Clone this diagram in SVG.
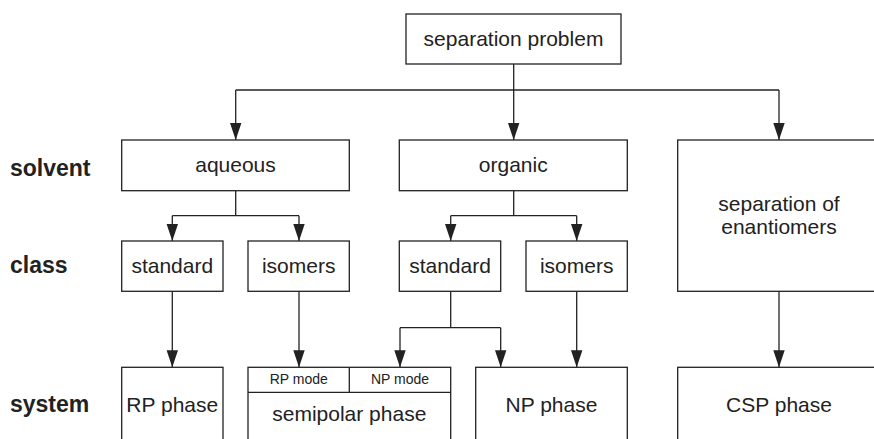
<svg xmlns="http://www.w3.org/2000/svg" width="874" height="439" viewBox="0 0 874 439">
  <style>
    .box { fill: #ffffff; stroke: #222222; stroke-width: 1.3; }
    .edge { fill: none; stroke: #222222; stroke-width: 1.3; }
    .lbl { font-family: "Liberation Sans", Arial, sans-serif; font-size: 21px; fill: #222222; text-anchor: middle; }
    .small { font-family: "Liberation Sans", Arial, sans-serif; font-size: 14px; fill: #222222; text-anchor: middle; }
    .row { font-family: "Liberation Sans", Arial, sans-serif; font-size: 23px; font-weight: bold; fill: #222222; }
  </style>
  <defs>
    <marker id="arrow" markerUnits="userSpaceOnUse" markerWidth="17" markerHeight="12" refX="17" refY="6" viewBox="0 0 17 12" orient="auto">
      <path d="M0,0.3 L17,6 L0,11.7 Z" fill="#222222"/>
    </marker>
  </defs>
  <rect width="874" height="439" fill="#ffffff"/>

  <!-- row captions -->
  <g id="row-labels">
    <text class="row" x="10" y="175.5">solvent</text>
    <text class="row" x="10" y="272.5">class</text>
    <text class="row" x="10" y="411.5">system</text>
  </g>

  <!-- connectors -->
  <g id="connectors">
    <path class="edge" d="M513.7,64 V90"/>
    <path class="edge" d="M235.7,90 H779"/>
    <path class="edge" d="M235.7,90 V140" marker-end="url(#arrow)"/>
    <path class="edge" d="M513.7,90 V140" marker-end="url(#arrow)"/>
    <path class="edge" d="M779,90 V140" marker-end="url(#arrow)"/>

    <path class="edge" d="M235.7,190.7 V215.7 M172.3,215.7 H299"/>
    <path class="edge" d="M172.3,215.7 V241" marker-end="url(#arrow)"/>
    <path class="edge" d="M299,215.7 V241" marker-end="url(#arrow)"/>

    <path class="edge" d="M513.7,190.7 V215.7 M450.7,215.7 H576.7"/>
    <path class="edge" d="M450.7,215.7 V241" marker-end="url(#arrow)"/>
    <path class="edge" d="M576.7,215.7 V241" marker-end="url(#arrow)"/>

    <path class="edge" d="M172.3,291.3 V367.3" marker-end="url(#arrow)"/>
    <path class="edge" d="M299,291.3 V367.3" marker-end="url(#arrow)"/>
    <path class="edge" d="M450.7,291.3 V327.7 M400,327.7 H500.7"/>
    <path class="edge" d="M400,327.7 V367.3" marker-end="url(#arrow)"/>
    <path class="edge" d="M500.7,327.7 V367.3" marker-end="url(#arrow)"/>
    <path class="edge" d="M576.7,291.3 V367.3" marker-end="url(#arrow)"/>
    <path class="edge" d="M779,291.3 V367.3" marker-end="url(#arrow)"/>
  </g>

  <!-- top -->
  <g id="separation-problem">
    <rect class="box" x="406" y="14" width="215" height="50"/>
    <text class="lbl" x="513.5" y="46">separation problem</text>
  </g>

  <!-- solvent row -->
  <g id="aqueous">
    <rect class="box" x="121.7" y="140" width="227.6" height="50.7"/>
    <text class="lbl" x="235.5" y="172.3">aqueous</text>
  </g>
  <g id="organic">
    <rect class="box" x="399.3" y="140" width="228" height="50.7"/>
    <text class="lbl" x="513.3" y="172.3">organic</text>
  </g>
  <g id="enantiomers">
    <rect class="box" x="677.7" y="140" width="210" height="151.3"/>
    <text class="lbl" x="779" y="210.7">separation of</text>
    <text class="lbl" x="779" y="234.2">enantiomers</text>
  </g>

  <!-- class row -->
  <g id="aqueous-standard">
    <rect class="box" x="121.7" y="241" width="101.3" height="50.3"/>
    <text class="lbl" x="172.3" y="272.7">standard</text>
  </g>
  <g id="aqueous-isomers">
    <rect class="box" x="248" y="241" width="101.3" height="50.3"/>
    <text class="lbl" x="298.7" y="272.7">isomers</text>
  </g>
  <g id="organic-standard">
    <rect class="box" x="399.3" y="241" width="101.4" height="50.3"/>
    <text class="lbl" x="450" y="272.7">standard</text>
  </g>
  <g id="organic-isomers">
    <rect class="box" x="526" y="241" width="101.3" height="50.3"/>
    <text class="lbl" x="576.7" y="272.7">isomers</text>
  </g>

  <!-- system row -->
  <g id="rp-phase">
    <rect class="box" x="121.7" y="367.3" width="101.3" height="90"/>
    <text class="lbl" x="172.3" y="411.7">RP phase</text>
  </g>
  <g id="semipolar-phase">
    <rect class="box" x="248" y="367.3" width="202.7" height="90"/>
    <path class="edge" d="M248,392.3 H450.7 M349.3,367.3 V392.3"/>
    <text class="small" x="298.7" y="384.2">RP mode</text>
    <text class="small" x="400" y="384.2">NP mode</text>
    <text class="lbl" x="349.3" y="420.7">semipolar phase</text>
  </g>
  <g id="np-phase">
    <rect class="box" x="475.7" y="367.3" width="151.6" height="90"/>
    <text class="lbl" x="551.5" y="411.7">NP phase</text>
  </g>
  <g id="csp-phase">
    <rect class="box" x="677.7" y="367.3" width="210" height="90"/>
    <text class="lbl" x="779" y="411.7">CSP phase</text>
  </g>
</svg>
